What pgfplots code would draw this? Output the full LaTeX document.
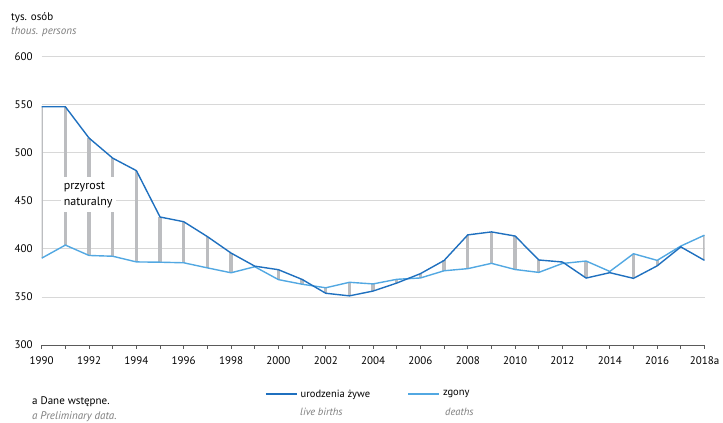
\documentclass[border=0pt]{standalone}
\usepackage{pgfplots}
\usepackage{pgfplotstable}
\pgfplotsset{compat=1.18}
\usepackage{fontspec}
\setmainfont{PT Sans}

\definecolor{births}{RGB}{31,112,191}
\definecolor{deaths}{RGB}{82,168,226}
\definecolor{barg}{RGB}{188,189,192}
\definecolor{gridg}{RGB}{216,216,216}
\definecolor{axisg}{RGB}{90,90,90}
\definecolor{subg}{RGB}{125,125,125}

% births (b) and deaths (d), thousands
\pgfplotstableread{
year b d
1990 547.7 390.3
1991 547.7 403.9
1992 515.2 393.1
1993 494.3 392.3
1994 481.3 386.4
1995 433.1 386.1
1996 428.2 385.5
1997 412.7 380.2
1998 395.6 375.1
1999 382.0 381.4
2000 378.3 368.0
2001 368.2 363.2
2002 353.8 359.5
2003 351.1 365.2
2004 356.1 363.5
2005 364.4 368.3
2006 374.2 369.7
2007 387.9 377.2
2008 414.5 379.4
2009 417.6 384.9
2010 413.3 378.5
2011 388.4 375.5
2012 386.3 384.8
2013 369.6 387.3
2014 375.2 376.5
2015 369.3 394.9
2016 382.3 388.0
2017 402.0 402.9
2018 388.0 414.2
}\ludnosc

\begin{document}
\begin{tikzpicture}[font=\fontsize{11}{13}\selectfont]
\begin{axis}[
    scale only axis,
    width=662.8pt, height=288.5pt,
    xmin=1990, xmax=2018,
    ymin=300, ymax=600,
    ytick={300,350,...,600},
    xtick={1990,1992,...,2018},
    xticklabels={1990,1992,1994,1996,1998,2000,2002,2004,2006,2008,2010,2012,2014,2016,2018a},
    minor xtick={1990,...,2018},
    axis x line*=bottom,
    axis y line*=left,
    y axis line style={draw=none},
    x axis line style={draw=axisg, line width=0.8pt, -},
    tick align=outside,
    major tick length=3.5pt, minor tick length=3.5pt,
    xtick style={draw=axisg, line width=0.7pt},
    minor x tick style={draw=axisg, line width=0.7pt},
    ytick style={draw=none},
    ymajorgrids,
    grid style={draw=gridg, line width=0.8pt},
    yticklabel style={anchor=east, xshift=-2pt},
    xticklabel style={yshift=-5pt},
    /pgf/number format/assume math mode=true,
    legend columns=2,
    reverse legend,
    legend style={draw=none, fill=none, at={(0.337,-0.170)}, anchor=west,
      inner sep=0pt, font=\fontsize{10.5}{12}\selectfont,
      nodes={inner sep=1pt},
      /tikz/every odd column/.append style={column sep=2pt}},
    legend image code/.code={\draw[#1] (0pt,0pt) -- (31pt,0pt);},
]
% natural increase: grey bars between the two series
\addplot[draw=none, mark=none, forget plot,
    error bars/.cd, y dir=minus, y explicit,
    error mark=none,
    error bar style={line width=3.3pt, draw=barg}]
  table[x=year, y expr={max(\thisrow{b},\thisrow{d})},
        y error expr={abs(\thisrow{b}-\thisrow{d})}] {\ludnosc};
\node[fill=white, anchor=west, align=left, inner xsep=3pt, inner ysep=5pt,
      font=\fontsize{12}{16}\selectfont]
  at (axis cs:1990.8,456.5) {przyrost\\naturalny};
\addplot[deaths, line width=1.4pt, mark=none] table[x=year, y=d] {\ludnosc};
\addlegendentry{zgony}
\addplot[births, line width=1.4pt, mark=none] table[x=year, y=b] {\ludnosc};
\addlegendentry{\makebox[106pt][l]{urodzenia żywe}}
\end{axis}
\node[anchor=west, inner sep=0pt] at (-30.7pt,327pt) {tys. osób};
\node[anchor=west, inner sep=0pt, text=subg] at (-30.7pt,313pt) {\itshape thous. persons};
\node[anchor=west, inner sep=0pt] at (-9.7pt,-57pt) {a Dane wstępne.};
\node[anchor=west, inner sep=0pt, text=subg] at (-9.7pt,-72pt) {\itshape a Preliminary data.};
\node[anchor=west, inner sep=0pt, text=subg, font=\fontsize{10.5}{12}\selectfont\itshape] at (258.3pt,-67pt) {live births};
\node[anchor=west, inner sep=0pt, text=subg, font=\fontsize{10.5}{12}\selectfont\itshape] at (403.3pt,-67pt) {deaths};
\pgfresetboundingbox
\path[use as bounding box] (-41.7pt,-78pt) rectangle (681.3pt,345pt);
\end{tikzpicture}
\end{document}
